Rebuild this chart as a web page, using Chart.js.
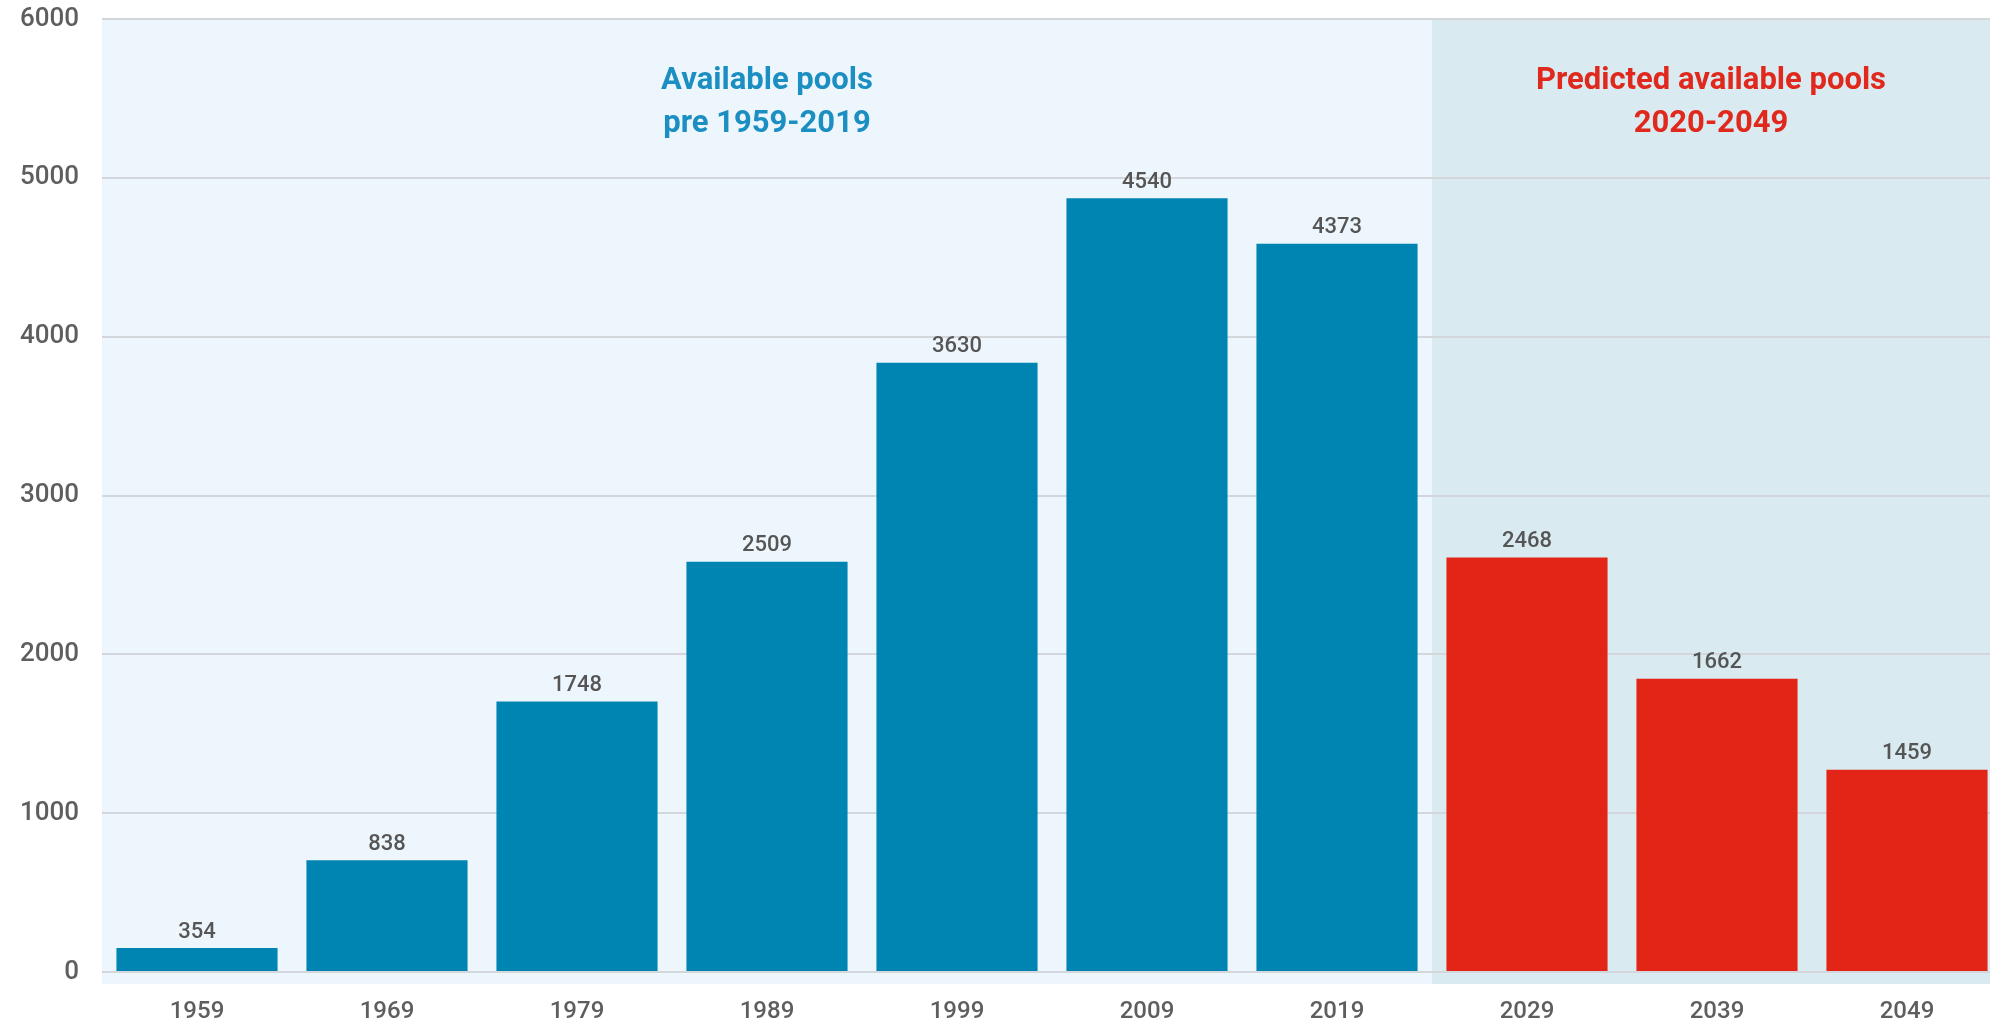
<!DOCTYPE html>
<html>
<head>
<meta charset="utf-8">
<script src="https://cdn.jsdelivr.net/npm/chart.js@4/dist/chart.umd.min.js"></script>
<style>
  html, body { margin: 0; padding: 0; background: #ffffff; overflow: hidden; }
  #wrap { width: 2002px; height: 1025px; position: relative; }
</style>
</head>
<body>
<div id="wrap"><canvas id="c"></canvas></div>
<script>
// Categories (decades)
const years = ['1959', '1969', '1979', '1989', '1999', '2009', '2019', '2029', '2039', '2049'];
// Bar heights as drawn in the picture
const barHeights = [151, 703, 1703, 2583, 3835, 4871, 4585, 2610, 1846, 1273];
// Value labels printed above the bars
const valueLabels = ['354', '838', '1748', '2509', '3630', '4540', '4373', '2468', '1662', '1459'];
// Which categories are predictions
const isPredicted = [false, false, false, false, false, false, false, true, true, true];
// Y tick values
const yTicks = [0, 1000, 2000, 3000, 4000, 5000, 6000];
// Region captions
const pastCaption = ['Available pools', 'pre 1959-2019'];
const futureCaption = ['Predicted available pools', '2020-2049'];

const BLUE = '#0085b2';
const RED = '#e22516';
const FONT = 'Roboto, "Open Sans", sans-serif';

const regionsPlugin = {
  id: 'regions',
  beforeDraw(chart) {
    const { ctx, chartArea, scales } = chart;
    const x = scales.x;
    const firstPred = isPredicted.indexOf(true);
    const boundary = (x.getPixelForValue(firstPred - 1) + x.getPixelForValue(firstPred)) / 2;
    const top = chartArea.top;
    const bottom = chartArea.bottom + 12;
    ctx.save();
    ctx.fillStyle = '#eef6fd';
    ctx.fillRect(chartArea.left, top, boundary - chartArea.left, bottom - top);
    ctx.fillStyle = '#d9eaf1';
    ctx.fillRect(boundary, top, chartArea.right - boundary, bottom - top);
    ctx.restore();
  },
  afterDraw(chart) {
    const { ctx, chartArea, scales } = chart;
    const x = scales.x;
    const firstPred = isPredicted.indexOf(true);
    const boundary = (x.getPixelForValue(firstPred - 1) + x.getPixelForValue(firstPred)) / 2;
    ctx.save();
    ctx.font = 'bold 31px ' + FONT;
    ctx.textAlign = 'center';
    ctx.textBaseline = 'middle';
    const leftCx = (chartArea.left + boundary) / 2;
    const rightCx = (boundary + 1990) / 2;
    ctx.fillStyle = '#1b8fc1';
    pastCaption.forEach((t, i) => ctx.fillText(t, leftCx, 81 + i * 43));
    ctx.fillStyle = '#e0281c';
    futureCaption.forEach((t, i) => ctx.fillText(t, rightCx, 81 + i * 43));
    ctx.restore();
  },
  afterDatasetsDraw(chart) {
    const { ctx } = chart;
    const meta = chart.getDatasetMeta(0);
    ctx.save();
    ctx.font = '500 22px ' + FONT;
    ctx.fillStyle = '#555555';
    ctx.textAlign = 'center';
    ctx.textBaseline = 'bottom';
    meta.data.forEach((bar, i) => {
      ctx.fillText(valueLabels[i], bar.x, bar.y - 5);
    });
    ctx.restore();
  }
};

new Chart(document.getElementById('c'), {
  type: 'bar',
  data: {
    labels: years,
    datasets: [{
      data: barHeights,
      backgroundColor: isPredicted.map(p => p ? RED : BLUE),
      borderWidth: 0,
      barPercentage: 0.848,
      categoryPercentage: 1.0
    }]
  },
  options: {
    responsive: true,
    maintainAspectRatio: false,
    animation: false,
    layout: { padding: { top: 19, bottom: 0, left: 0, right: 0 } },
    plugins: {
      legend: { display: false },
      tooltip: { enabled: false }
    },
    scales: {
      x: {
        afterFit(scale) { scale.height = 53; },
        grid: { display: false, drawTicks: false },
        border: { display: false },
        ticks: {
          color: '#5e5e5e',
          font: { family: FONT, size: 24, weight: '500' },
          padding: 26,
          maxRotation: 0
        }
      },
      y: {
        min: 0,
        max: 6000,
        afterBuildTicks(scale) { scale.ticks = yTicks.map(v => ({ value: v })); },
        afterFit(scale) { scale.width = 102; scale.paddingTop = 0; scale.paddingBottom = 0; },
        grid: { color: '#d3d7db', lineWidth: 2, drawTicks: false },
        border: { display: false },
        ticks: {
          color: '#5e5e5e',
          font: { family: FONT, size: 26, weight: '500' },
          padding: 23,
          callback: v => String(v)
        }
      }
    }
  },
  plugins: [regionsPlugin]
});
</script>
</body>
</html>
